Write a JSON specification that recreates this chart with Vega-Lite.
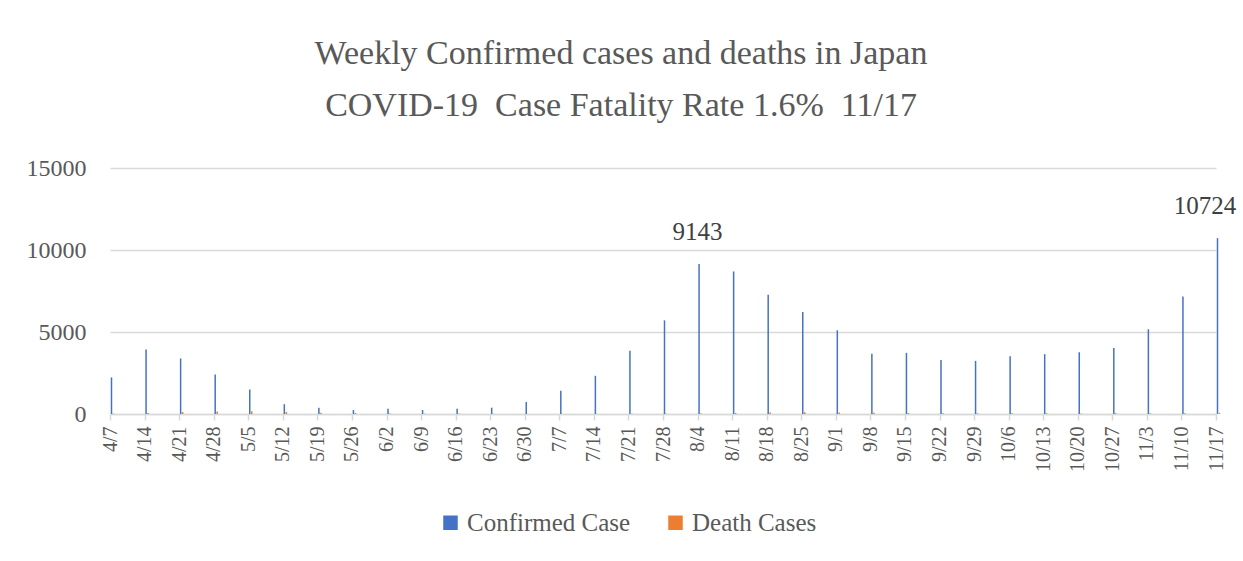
{
  "$schema": "https://vega.github.io/schema/vega-lite/v6.json",
  "autosize": {"type": "none"},
  "width": 1106,
  "height": 246,
  "padding": {"left": 110, "top": 168, "right": 27, "bottom": 147},
  "background": "white",
  "datasets": {
    "cases": [
      {"date": "4/7", "value": 2230},
      {"date": "4/14", "value": 3930},
      {"date": "4/21", "value": 3385},
      {"date": "4/28", "value": 2410},
      {"date": "5/5", "value": 1500},
      {"date": "5/12", "value": 600},
      {"date": "5/19", "value": 385},
      {"date": "5/26", "value": 240},
      {"date": "6/2", "value": 320},
      {"date": "6/9", "value": 245},
      {"date": "6/16", "value": 325},
      {"date": "6/23", "value": 385},
      {"date": "6/30", "value": 730},
      {"date": "7/7", "value": 1420},
      {"date": "7/14", "value": 2330},
      {"date": "7/21", "value": 3850},
      {"date": "7/28", "value": 5710},
      {"date": "8/4", "value": 9143, "label": "9143"},
      {"date": "8/11", "value": 8690},
      {"date": "8/18", "value": 7275},
      {"date": "8/25", "value": 6220},
      {"date": "9/1", "value": 5105},
      {"date": "9/8", "value": 3670},
      {"date": "9/15", "value": 3730},
      {"date": "9/22", "value": 3300},
      {"date": "9/29", "value": 3240},
      {"date": "10/6", "value": 3525},
      {"date": "10/13", "value": 3650},
      {"date": "10/20", "value": 3770},
      {"date": "10/27", "value": 4030},
      {"date": "11/3", "value": 5170},
      {"date": "11/10", "value": 7170},
      {"date": "11/17", "value": 10724, "label": "10724"}
    ],
    "deaths": [
      {"date": "4/7", "value": 20},
      {"date": "4/14", "value": 60},
      {"date": "4/21", "value": 120},
      {"date": "4/28", "value": 150},
      {"date": "5/5", "value": 170},
      {"date": "5/12", "value": 120},
      {"date": "5/19", "value": 80},
      {"date": "5/26", "value": 60},
      {"date": "6/2", "value": 30},
      {"date": "6/9", "value": 20},
      {"date": "6/16", "value": 15},
      {"date": "6/23", "value": 10},
      {"date": "6/30", "value": 5},
      {"date": "7/7", "value": 5},
      {"date": "7/14", "value": 5},
      {"date": "7/21", "value": 10},
      {"date": "7/28", "value": 20},
      {"date": "8/4", "value": 30},
      {"date": "8/11", "value": 60},
      {"date": "8/18", "value": 90},
      {"date": "8/25", "value": 100},
      {"date": "9/1", "value": 90},
      {"date": "9/8", "value": 70},
      {"date": "9/15", "value": 60},
      {"date": "9/22", "value": 50},
      {"date": "9/29", "value": 40},
      {"date": "10/6", "value": 45},
      {"date": "10/13", "value": 40},
      {"date": "10/20", "value": 35},
      {"date": "10/27", "value": 40},
      {"date": "11/3", "value": 40},
      {"date": "11/10", "value": 50},
      {"date": "11/17", "value": 70}
    ]
  },
  "title": {
    "text": "Weekly Confirmed cases and deaths in Japan",
    "subtitle": "COVID-19\u00a0 Case Fatality Rate 1.6%\u00a0 11/17",
    "font": "Liberation Serif",
    "subtitleFont": "Liberation Serif",
    "fontSize": 34,
    "subtitleFontSize": 34,
    "fontWeight": "normal",
    "color": "#595959",
    "subtitleColor": "#595959",
    "subtitlePadding": 18,
    "anchor": "middle",
    "dx": -42,
    "offset": 33
  },
  "layer": [
    {
      "data": {"name": "cases"},
      "mark": {"type": "bar", "width": 1.5, "xOffset": 1.5},
      "encoding": {
        "x": {"field": "date", "type": "ordinal", "sort": null},
        "y": {"field": "value", "type": "quantitative"},
        "color": {"datum": "Confirmed Case"}
      }
    },
    {
      "data": {"name": "deaths"},
      "mark": {"type": "bar", "width": 1.5, "xOffset": 3.5},
      "encoding": {
        "x": {"field": "date", "type": "ordinal", "sort": null},
        "y": {"field": "value", "type": "quantitative"},
        "color": {"datum": "Death Cases"}
      }
    },
    {
      "data": {"name": "cases"},
      "transform": [{"filter": "datum.date == '8/4'"}],
      "mark": {"type": "text", "font": "Liberation Serif", "fontSize": 25, "color": "#404040", "dy": -24, "baseline": "alphabetic"},
      "encoding": {
        "x": {"field": "date", "type": "ordinal", "sort": null},
        "y": {"field": "value", "type": "quantitative"},
        "text": {"field": "label"}
      }
    },
    {
      "data": {"name": "cases"},
      "transform": [{"filter": "datum.date == '11/17'"}],
      "mark": {"type": "text", "font": "Liberation Serif", "fontSize": 25, "color": "#404040", "dy": -24, "dx": -11, "baseline": "alphabetic"},
      "encoding": {
        "x": {"field": "date", "type": "ordinal", "sort": null},
        "y": {"field": "value", "type": "quantitative"},
        "text": {"field": "label"}
      }
    }
  ],
  "encoding": {
    "x": {
      "field": "date",
      "type": "ordinal",
      "sort": null,
      "scale": {"type": "point", "padding": 0},
      "axis": {
        "title": null,
        "labelAngle": -90,
        "labelFont": "Liberation Serif",
        "labelFontSize": 20,
        "labelColor": "#595959",
        "labelPadding": 6,
        "domainColor": "#d9d9d9",
        "domainWidth": 1.5,
        "tickColor": "#d9d9d9",
        "tickWidth": 1.5,
        "tickSize": 6,
        "grid": false
      }
    },
    "y": {
      "field": "value",
      "type": "quantitative",
      "scale": {"domain": [0, 15000]},
      "axis": {
        "title": null,
        "values": [0, 5000, 10000, 15000],
        "format": "d",
        "domain": false,
        "ticks": false,
        "labelFont": "Liberation Serif",
        "labelFontSize": 24,
        "labelColor": "#595959",
        "labelPadding": 24,
        "gridColor": "#d9d9d9",
        "gridWidth": 1.5
      }
    },
    "color": {
      "type": "nominal",
      "scale": {"domain": ["Confirmed Case", "Death Cases"], "range": ["#4472C4", "#ED7D31"]},
      "legend": {
        "title": null,
        "orient": "none",
        "legendX": 328,
        "legendY": 342,
        "direction": "horizontal",
        "symbolType": "square",
        "symbolSize": 210,
        "symbolStrokeWidth": 0,
        "symbolOpacity": 1,
        "labelFont": "Liberation Serif",
        "labelFontSize": 25,
        "labelColor": "#595959",
        "labelOffset": 4,
        "labelLimit": 400,
        "columnPadding": 32
      }
    }
  },
  "config": {
    "view": {"stroke": null},
    "font": "Liberation Serif"
  }
}
